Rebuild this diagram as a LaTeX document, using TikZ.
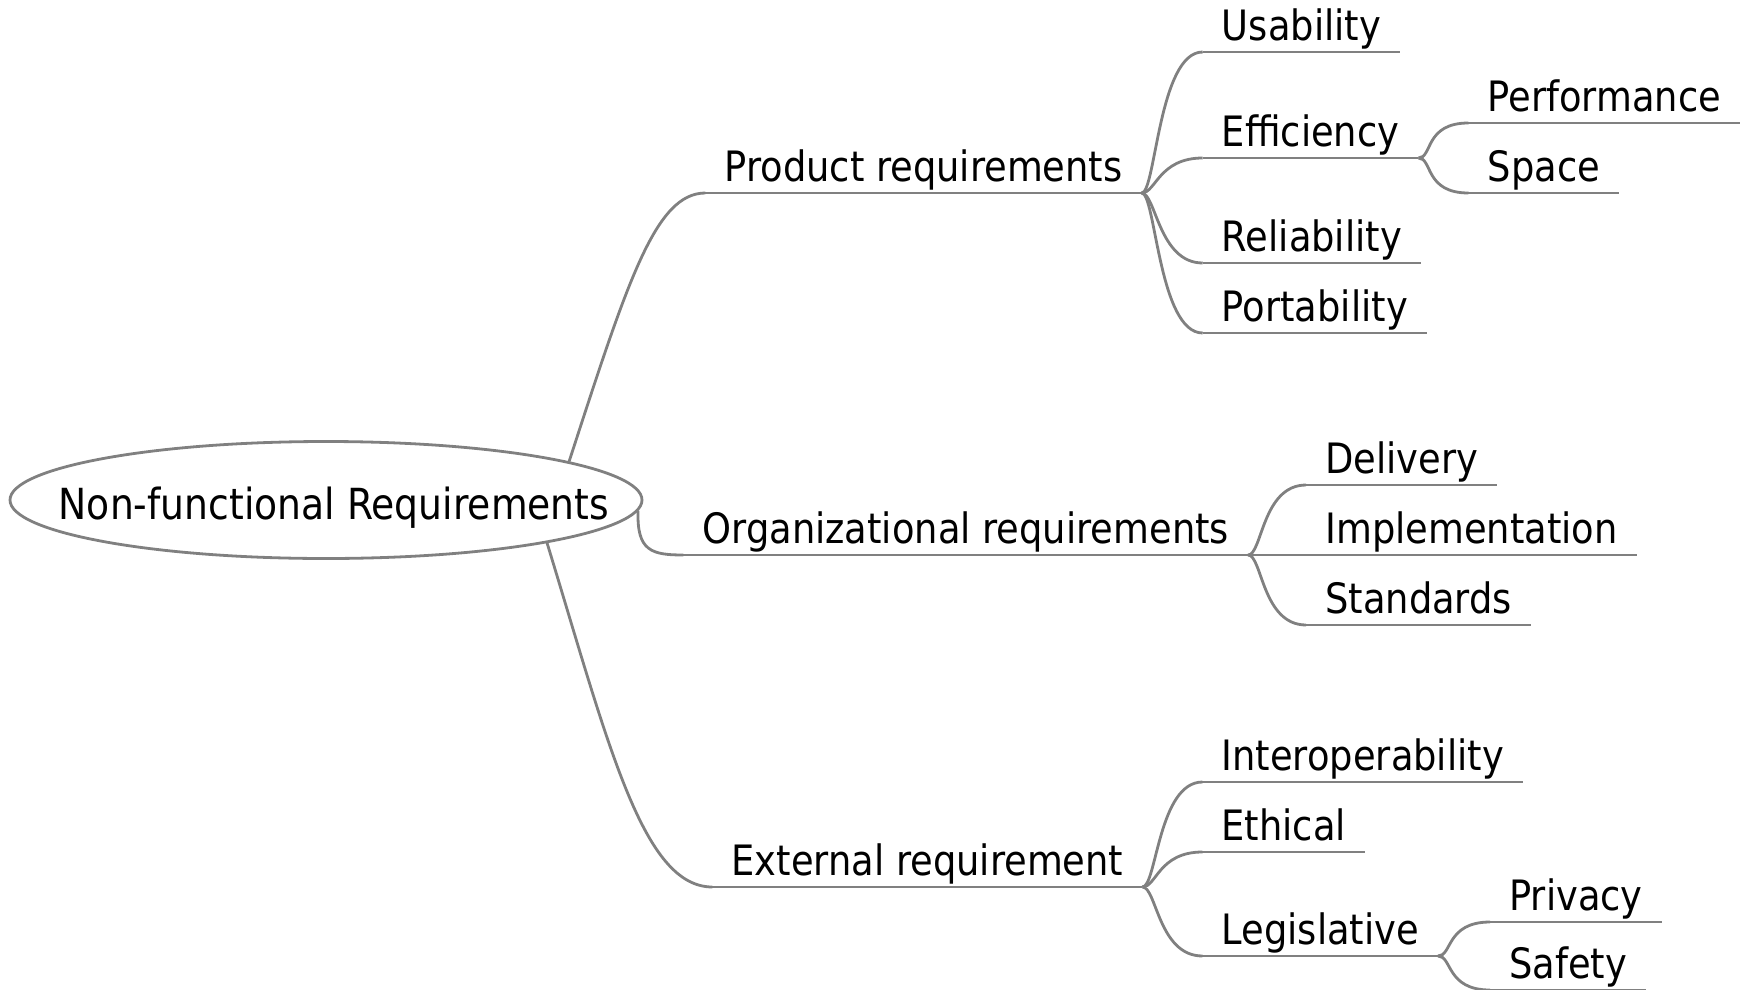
\documentclass[tikz,border=0pt]{standalone}
\usepackage{fontspec}
\setmainfont[FakeStretch=0.88]{DejaVu Sans}
\usetikzlibrary{positioning,shapes.geometric}
\definecolor{branchgray}{RGB}{128,128,128}

\begin{document}
\begin{tikzpicture}[
      font=\fontsize{42}{50}\selectfont,
      root/.style={draw=branchgray,line width=2.8bp,ellipse,minimum width=632bp,minimum height=117bp,inner sep=0pt},
      topic/.style={inner xsep=19bp,inner ysep=0pt,text depth=11bp,anchor=south west},
      twig/.style={draw=branchgray,line width=2.8bp},
      branch/.style={twig,to path={.. controls +(14bp,0) and +(-44bp,0) .. (\tikztotarget)}}
    ]
        \useasboundingbox (0,0) rectangle (1750bp,-990bp);
        \node[root, label={[xshift=8bp,yshift=-8bp,font=\fontsize{43}{50}\selectfont]center:Non-functional Requirements}] (nfr) at (326bp,-500bp) {};
        % main branches
        \node[topic, above right=307bp and 62bp of nfr.east] (prod) {Product requirements};
        \node[topic, below right=55bp and 40bp of nfr.east, anchor=south west] (org) {Organizational requirements};
        \node[topic, below right=387bp and 69bp of nfr.east, anchor=south west] (ext) {External requirement};
        % product
        \node[topic, above right=141bp and 61bp of prod.south east] (usab) {Usability};
        \node[topic, above right=35bp and 61bp of prod.south east] (effi) {Efficiency};
        \node[topic, below right=70bp and 61bp of prod.south east, anchor=south west] (reli) {Reliability};
        \node[topic, below right=140bp and 61bp of prod.south east, anchor=south west] (port) {Portability};
        \node[topic, above right=35bp and 50bp of effi.south east] (perf) {Performance};
        \node[topic, below right=35bp and 50bp of effi.south east, anchor=south west] (space) {Space};
        % organizational
        \node[topic, above right=70bp and 58bp of org.south east] (deli) {Delivery};
        \node[topic, right=58bp of org.south east, anchor=south west] (impl) {Implementation};
        \node[topic, below right=70bp and 58bp of org.south east, anchor=south west] (stan) {Standards};
        % external
        \node[topic, above right=105bp and 60bp of ext.south east] (inter) {Interoperability};
        \node[topic, above right=35bp and 60bp of ext.south east] (ethi) {Ethical};
        \node[topic, below right=69bp and 60bp of ext.south east, anchor=south west] (legi) {Legislative};
        \node[topic, above right=34bp and 52bp of legi.south east] (priv) {Privacy};
        \node[topic, below right=34bp and 52bp of legi.south east, anchor=south west] (safe) {Safety};
        % underlines
        \foreach \n in {prod,org,ext,usab,effi,reli,port,perf,space,deli,impl,stan,inter,ethi,legi,priv,safe}
            \draw[twig] (\n.south west) -- (\n.south east);
        % connectors
        \draw[twig] (nfr.9) .. controls +(72:190bp) and +(-50bp,0) .. (prod.south west);
        \draw[twig] (nfr.-2) .. controls +(-92:40bp) and +(-32bp,0) .. (org.south west);
        \draw[twig] (nfr.-11) .. controls +(-73:210bp) and +(-70bp,0) .. (ext.south west);
        \path (prod.south east) edge[branch] (usab.south west)
                                edge[branch] (effi.south west)
                                edge[branch] (reli.south west)
                                edge[branch] (port.south west)
              (effi.south east) edge[branch] (perf.south west)
                                edge[branch] (space.south west)
              (org.south east)  edge[branch] (deli.south west)
                                edge[branch] (impl.south west)
                                edge[branch] (stan.south west)
              (ext.south east)  edge[branch] (inter.south west)
                                edge[branch] (ethi.south west)
                                edge[branch] (legi.south west)
              (legi.south east) edge[branch] (priv.south west)
                                edge[branch] (safe.south west);
\end{tikzpicture}
\end{document}
